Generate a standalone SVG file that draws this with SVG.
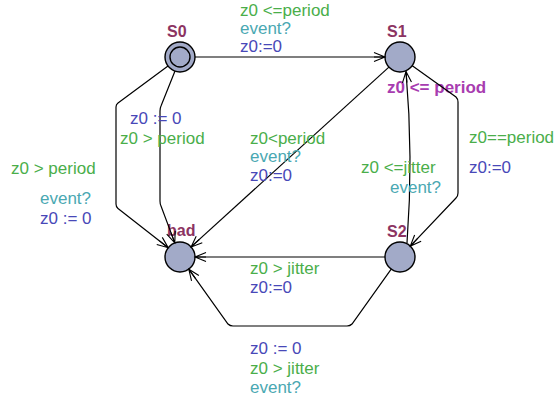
<svg xmlns="http://www.w3.org/2000/svg" width="556" height="405" viewBox="0 0 556 405">
  <style>
    text { font-family: "Liberation Sans", Arial, sans-serif; font-size: 17px; }
    .name { font-weight: bold; font-size: 16px; fill: #8c3462; }
    .inv { font-weight: bold; fill: #a83cb0; }
    .guard { fill: #4aae4a; }
    .sync { fill: #4aa8b2; }
    .assign { fill: #4848b8; }
    .loc { fill: #a2aac8; stroke: #000; stroke-width: 1.4; }
    .edge { fill: none; stroke: #000; stroke-width: 1.2; marker-end: url(#arrow); }
  </style>
  <defs>
    <marker id="arrow" markerUnits="userSpaceOnUse" markerWidth="14" markerHeight="12" viewBox="-12 -6 14 12" refX="0" refY="0" orient="auto">
      <path d="M-11,-4.5 L0,0 L-11,4.5 M-11,0 L0,0" fill="none" stroke="#000" stroke-width="1.1"/>
    </marker>
  </defs>

  <rect width="556" height="405" fill="#fff"/>

  <!-- locations -->
  <g id="S0">
    <circle class="loc" cx="180" cy="57" r="15"/>
    <circle cx="180" cy="57" r="10" fill="none" stroke="#000" stroke-width="1.4"/>
    <text class="name" x="167" y="37">S0</text>
  </g>
  <g id="S1">
    <circle class="loc" cx="400" cy="57" r="15"/>
    <text class="name" x="387" y="37">S1</text>
    <text class="inv" x="387" y="93">z0 &lt;= period</text>
  </g>
  <g id="bad">
    <circle class="loc" cx="180" cy="257" r="15"/>
    <text class="name" x="167" y="236">bad</text>
  </g>
  <g id="S2">
    <circle class="loc" cx="400" cy="257" r="15"/>
    <text class="name" x="387" y="237">S2</text>
  </g>

  <!-- transitions -->
  <g id="edges">
    <path class="edge" d="M195,57 L385,57"/>
    <path class="edge" d="M168,66 L118,103 Q116,104.5 116,107 L116,204 Q116,207 118,208.5 L168.2,247.7"/>
    <path class="edge" d="M175,71 L161,106 Q160,108 160,111 L160,201 Q160,204 161,206 L174.8,242.9"/>
    <path class="edge" d="M388.9,67.1 L191.1,246.9"/>
    <path class="edge" d="M412.3,65.7 L456,97 Q458,99 458,102 L458,193 Q458,196 456,198 L410.3,246.1"/>
    <path class="edge" d="M407,243 Q413.5,157 406,71.5"/>
    <path class="edge" d="M385,257 L195,257"/>
    <path class="edge" d="M391.2,269.2 L352,324 Q350,326 347,326 L233,326 Q230,326 228,324 L188.8,269.2"/>
  </g>

  <!-- transition labels -->
  <g id="labels">
    <text class="guard" x="240" y="16">z0 &lt;=period</text>
    <text class="sync" x="240" y="33.5">event?</text>
    <text class="assign" x="240" y="51.5">z0:=0</text>

    <text class="guard" x="11" y="174">z0 &gt; period</text>
    <text class="sync" x="40" y="204">event?</text>
    <text class="assign" x="40" y="224">z0 := 0</text>

    <text class="assign" x="130" y="124">z0 := 0</text>
    <text class="guard" x="120" y="144">z0 &gt; period</text>

    <text class="guard" x="250" y="144">z0&lt;period</text>
    <text class="sync" x="250" y="162">event?</text>
    <text class="assign" x="250" y="181">z0:=0</text>

    <text class="guard" x="469" y="143">z0==period</text>
    <text class="assign" x="469" y="173">z0:=0</text>

    <text class="guard" x="361" y="173">z0 &lt;=jitter</text>
    <text class="sync" x="390" y="193">event?</text>

    <text class="guard" x="250" y="274">z0 &gt; jitter</text>
    <text class="assign" x="250" y="293">z0:=0</text>

    <text class="assign" x="250" y="354">z0 := 0</text>
    <text class="guard" x="250" y="374">z0 &gt; jitter</text>
    <text class="sync" x="250" y="393">event?</text>
  </g>
</svg>
